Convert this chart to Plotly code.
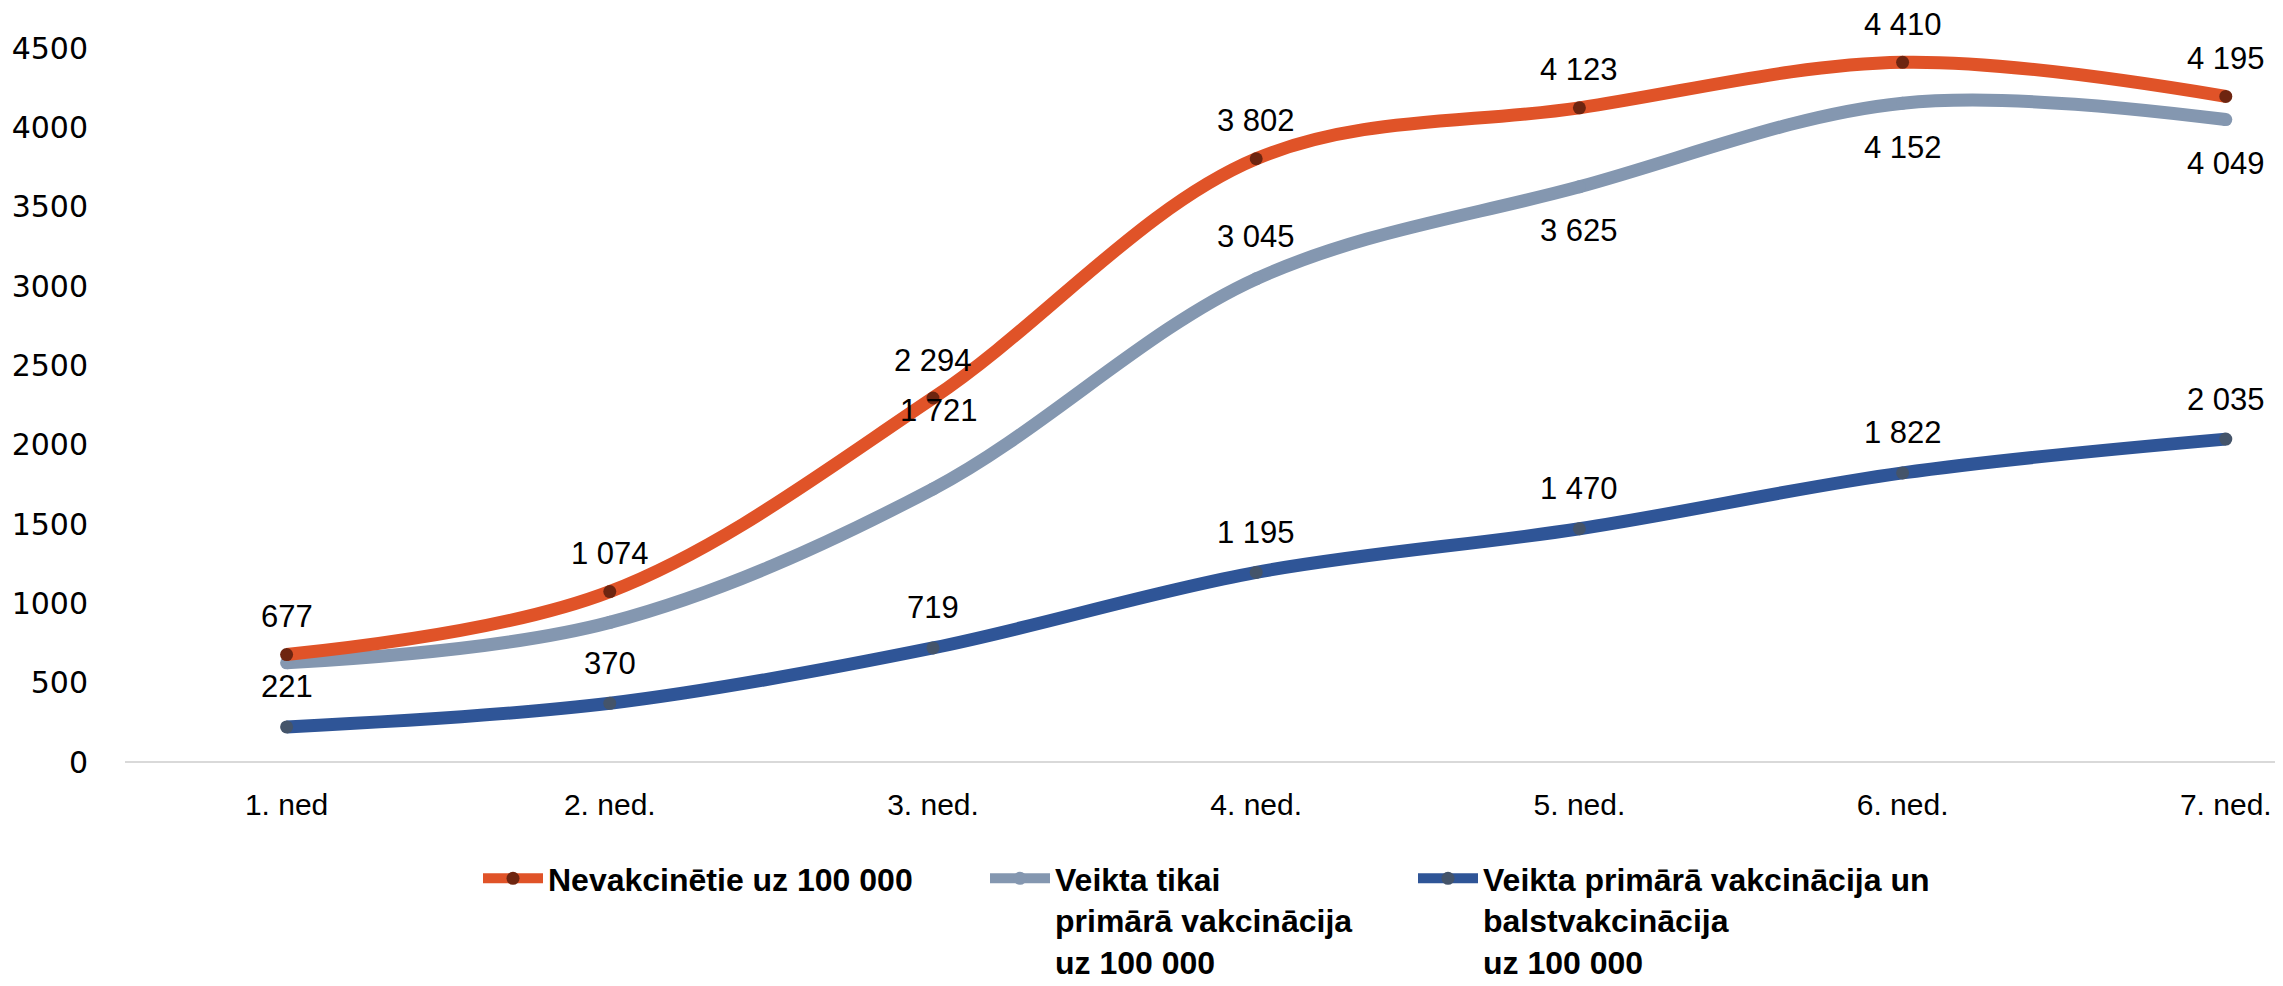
import plotly.graph_objects as go

WEEKS = ["1. ned", "2. ned.", "3. ned.", "4. ned.", "5. ned.", "6. ned.", "7. ned."]

UNVACC = [677, 1074, 2294, 3802, 4123, 4410, 4195]
PRIMARY = [625, 880, 1721, 3045, 3625, 4152, 4049]
BOOSTER = [221, 370, 719, 1195, 1470, 1822, 2035]

NAMES = [
    "Nevakcinētie uz 100 000",
    "Veikta tikai<br>primārā vakcinācija<br>uz 100 000",
    "Veikta primārā vakcinācija un<br>balstvakcinācija<br>uz 100 000",
]

# which points get a data label and where (px above the point, negative = below)
PRIMARY_LABELED = [False, False, True, True, True, True, True]
PRIMARY_SHIFT = [0, 0, 78, 42, -44, -44, -44]

FONT = "Liberation Sans, Arial, sans-serif"
PAGE_OFF = 8  # default body margin of the html page
W, H = 2283 - PAGE_OFF, 986 - PAGE_OFF
L, R, T, B = 117, 0, 40, 224
PLOT_W = W - L - R
STEP = 323.2  # px between weeks


def fmt(v):
    return f"{v:,}".replace(",", " ")


def line_trace(y, name, color, mcolor, legend):
    return go.Scatter(
        x=list(range(len(WEEKS))), y=y, name=name, mode="lines+markers",
        line=dict(color=color, width=13, shape="spline", smoothing=1.0),
        marker=dict(color=mcolor, size=13),
        legend=legend,
        hovertemplate="%{y}<extra></extra>",
    )


fig = go.Figure()
fig.add_trace(line_trace(BOOSTER, NAMES[2], "#2F5597", "#44546A", "legend3"))
fig.add_trace(line_trace(PRIMARY, NAMES[1], "#8497B0", "#8497B0", "legend2"))
fig.add_trace(line_trace(UNVACC, NAMES[0], "#E05328", "#6E2510", "legend"))

ann = []
for i, v in enumerate(UNVACC):
    ann.append(dict(x=i, y=v, text=fmt(v), yshift=38))
for i, v in enumerate(PRIMARY):
    if PRIMARY_LABELED[i]:
        ann.append(dict(x=i, y=v, text=fmt(v), yshift=PRIMARY_SHIFT[i], xshift=6 if i == 2 else 0))
for i, v in enumerate(BOOSTER):
    ann.append(dict(x=i, y=v, text=fmt(v), yshift=40))
for a in ann:
    a.update(showarrow=False, font=dict(family=FONT, size=31, color="#000"))

# legend placed in container coords so it doesn't push the bottom margin
legend_base = dict(
    orientation="h", yanchor="top", xanchor="left",
    yref="container", y=1 - 843 / H, valign="top",
    bgcolor="rgba(0,0,0,0)", itemwidth=60,
    font=dict(family=FONT, size=32, color="#000", weight="bold"),
)


def px_x(p):
    return (p - L) / PLOT_W


fig.update_layout(
    width=W, height=H,
    paper_bgcolor="white", plot_bgcolor="white",
    margin=dict(l=L, r=R, t=T, b=B),
    showlegend=True,
    annotations=ann,
    legend={**legend_base, "x": px_x(470)},
    legend2={**legend_base, "x": px_x(977)},
    legend3={**legend_base, "x": px_x(1405)},
    font=dict(family=FONT, color="#000"),
)
fig.update_xaxes(
    range=[-0.5, PLOT_W / STEP - 0.5],
    tickvals=list(range(len(WEEKS))), ticktext=WEEKS,
    showgrid=False, zeroline=False, showline=False,
    tickfont=dict(family=FONT, size=30, color="#000"),
    ticks="", ticklabelstandoff=22,
)
fig.update_yaxes(
    range=[0, 4500], dtick=500, tickformat="d",
    showgrid=False, zeroline=True, zerolinecolor="#D9D9D9", zerolinewidth=2,
    tickfont=dict(family="DejaVu Sans, sans-serif", size=30, color="#000"),
    ticks="", ticklabelstandoff=36,
)

fig.write_html("out.html")
